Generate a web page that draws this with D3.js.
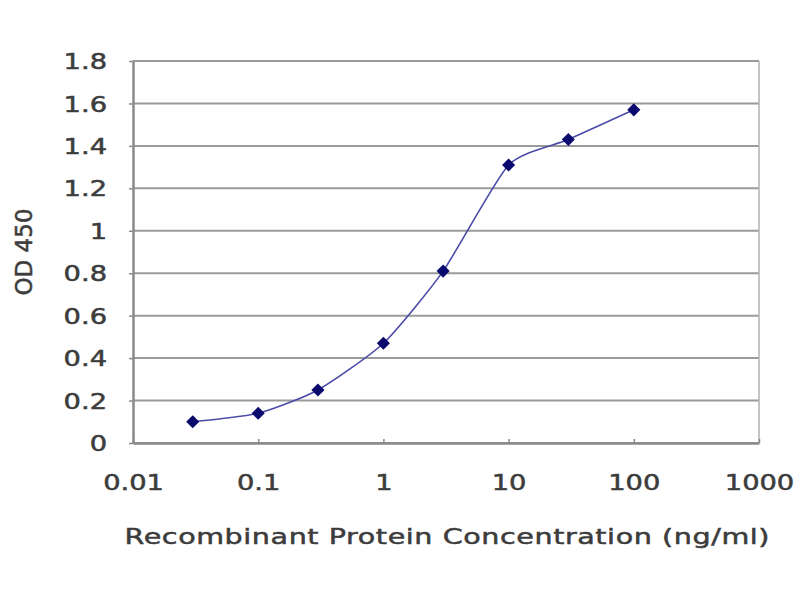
<!DOCTYPE html>
<html><head><meta charset="utf-8">
<script src="https://cdn.jsdelivr.net/npm/d3@7"></script>
<style>body{margin:0;background:#fff}svg{display:block}</style>
</head><body>
<svg id="c" width="800" height="600"></svg>
<script>
const concentrations = [0.03, 0.1, 0.3, 1, 3, 10, 30, 100];
const odValues = [0.10, 0.14, 0.25, 0.47, 0.81, 1.31, 1.43, 1.57];
const xTicks = [0.01, 0.1, 1, 10, 100, 1000];
const xTickLabels = ["0.01", "0.1", "1", "10", "100", "1000"];
const yTicks = [0, 0.2, 0.4, 0.6, 0.8, 1, 1.2, 1.4, 1.6, 1.8];
const yTickLabels = ["0", "0.2", "0.4", "0.6", "0.8", "1", "1.2", "1.4", "1.6", "1.8"];
const xTitle = "Recombinant Protein Concentration (ng/ml)";
const yTitle = "OD 450";

const m = {l:133, r:41, t:61, b:157};
const W = 800, H = 600;
const svg = d3.select("#c");
const x = d3.scaleLog().domain([0.01, 1000]).range([m.l, W - m.r]);
const y = d3.scaleLinear().domain([0, 1.8]).range([H - m.b, m.t]);
const font = "DejaVu Sans, Verdana, sans-serif";
const txt = "#3c3c3c";
const sx = 1.3;

// gridlines
svg.append("g").selectAll("line").data(yTicks).join("line")
  .attr("x1", m.l).attr("x2", W - m.r)
  .attr("y1", d => y(d)).attr("y2", d => y(d))
  .attr("stroke", "#9a9a9a").attr("stroke-width", 2);
// right border
svg.append("line").attr("x1", W - m.r).attr("x2", W - m.r)
  .attr("y1", m.t).attr("y2", H - m.b).attr("stroke", "#b0b0b0").attr("stroke-width", 1.5);

// axes
const xAxis = d3.axisBottom(x).tickValues(xTicks).tickFormat((d,i) => xTickLabels[i]).tickSizeInner(-4).tickSizeOuter(0).tickPadding(32);
const gx = svg.append("g").attr("transform", `translate(0,${H - m.b})`).call(xAxis);
const yAxis = d3.axisLeft(y).tickValues(yTicks).tickFormat((d,i) => yTickLabels[i]).tickSizeInner(4).tickSizeOuter(0).tickPadding(16);
const gy = svg.append("g").attr("transform", `translate(${m.l},0)`).call(yAxis);
[gx, gy].forEach(g => {
  g.select(".domain").attr("stroke", "#8a8a8a").attr("stroke-width", 2.5);
  g.selectAll(".tick line").attr("stroke", "#8a8a8a").attr("stroke-width", 1.5);
  g.selectAll(".tick text").attr("fill", txt).attr("font-family", font)
    .attr("font-size", 21).attr("stroke", txt).attr("stroke-width", 0.5)
    .attr("transform", `scale(${sx},1)`);
});
gy.selectAll(".tick text").attr("dy", "0.36em");

// line
const pts = concentrations.map((c,i) => [c, odValues[i]]);
svg.append("path").datum(pts)
  .attr("fill", "none").attr("stroke", "#4a4aa8").attr("stroke-width", 1.6)
  .attr("d", d3.line().x(d => x(d[0])).y(d => y(d[1])).curve(d3.curveCardinal.tension(0.4)));

// markers
svg.append("g").selectAll("path").data(pts).join("path")
  .attr("transform", d => `translate(${x(d[0])},${y(d[1])})`)
  .attr("d", d3.symbol().type(d3.symbolDiamond2).size(110))
  .attr("fill", "#0a0a6e");

// titles
svg.append("text").attr("transform", `translate(447,544) scale(${sx},1)`)
  .attr("text-anchor", "middle").attr("font-family", font).attr("font-size", 22)
  .attr("fill", txt).attr("stroke", txt).attr("stroke-width", 0.5)
  .attr("textLength", 645 / sx).attr("lengthAdjust", "spacing")
  .text(xTitle);
svg.append("text").attr("transform", "translate(32,252) rotate(-90)")
  .attr("text-anchor", "middle").attr("font-family", font).attr("font-size", 23)
  .attr("fill", txt).attr("stroke", txt).attr("stroke-width", 0.5).text(yTitle);
</script>
</body></html>
